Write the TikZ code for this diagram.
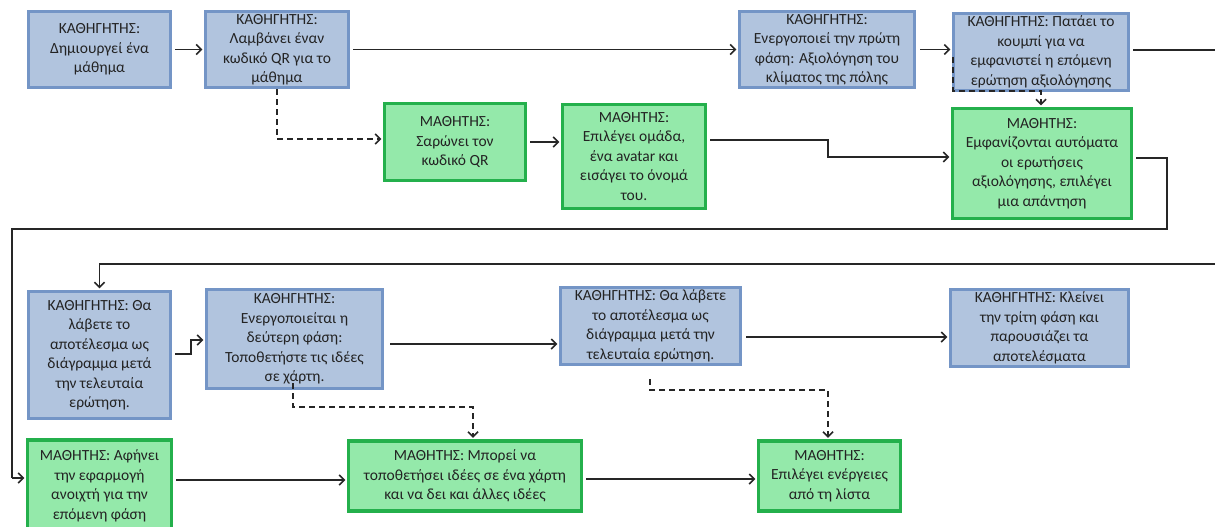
\documentclass[tikz,border=0pt]{standalone}
\usepackage{fontspec}
\setmainfont{Carlito}
\usetikzlibrary{arrows.meta,calc}
\definecolor{bfill}{RGB}{177,196,222}
\definecolor{bline}{RGB}{116,149,198}
\definecolor{gfill}{RGB}{148,233,170}
\definecolor{gline}{RGB}{36,176,76}
\definecolor{txt}{RGB}{35,35,35}
\begin{document}
\begin{tikzpicture}[x=1pt,y=-1pt,
  box/.style={draw, line width=3.4pt, align=center, inner sep=0pt, text=txt,
    font=\fontsize{15.5}{19.5}\selectfont},
  tbox/.style={box, draw=bline, fill=bfill},
  sbox/.style={box, draw=gline, fill=gfill},
  conn/.style={line width=1.6pt, draw=black!85, -{Straight Barb[length=5pt,width=10pt,line width=1.5pt]}, shorten >=1.5pt},
  plain/.style={line width=1.6pt, draw=black!85},
  dconn/.style={conn, dash pattern=on 6pt off 4pt}]
\useasboundingbox (0,0) rectangle (1215,527);
\clip (0,0) rectangle (1215,527);

% row 1
\node[tbox, minimum width=142pt, minimum height=76pt] (A1) at (99.5,49.5) {ΚΑΘΗΓΗΤΗΣ:\\Δημιουργεί ένα\\μάθημα};
\node[tbox, minimum width=143pt, minimum height=76pt] (A2) at (277,49.5) {ΚΑΘΗΓΗΤΗΣ:\\Λαμβάνει έναν\\κωδικό QR για το\\μάθημα};
\node[tbox, minimum width=175pt, minimum height=76pt] (A3) at (827,49.5) {ΚΑΘΗΓΗΤΗΣ:\\Ενεργοποιεί την πρώτη\\φάση: Αξιολόγηση του\\κλίματος της πόλης};
\node[tbox, minimum width=175pt, minimum height=77pt] (A4) at (1041,52) {ΚΑΘΗΓΗΤΗΣ: Πατάει το\\κουμπί για να\\εμφανιστεί η επόμενη\\ερώτηση αξιολόγησης};
\node[sbox, minimum width=141pt, minimum height=77pt] (B1) at (455,142) {ΜΑΘΗΤΗΣ:\\Σαρώνει τον\\κωδικό QR};
\node[sbox, minimum width=143pt, minimum height=104pt] (B2) at (634,156.5) {ΜΑΘΗΤΗΣ:\\Επιλέγει ομάδα,\\ένα avatar και\\εισάγει το όνομά\\του.};
\node[sbox, minimum width=179pt, minimum height=110pt] (B3) at (1042,163.5) {ΜΑΘΗΤΗΣ:\\Εμφανίζονται αυτόματα\\οι ερωτήσεις\\αξιολόγησης, επιλέγει\\μια απάντηση};

% row 2
\node[tbox, minimum width=142pt, minimum height=127pt] (C1) at (99.5,355) {ΚΑΘΗΓΗΤΗΣ: Θα\\λάβετε το\\αποτέλεσμα ως\\διάγραμμα μετά\\την τελευταία\\ερώτηση.};
\node[tbox, minimum width=176pt, minimum height=99pt] (C2) at (294.5,339) {ΚΑΘΗΓΗΤΗΣ:\\Ενεργοποιείται η\\δεύτερη φάση:\\Τοποθετήστε τις ιδέες\\σε χάρτη.};
\node[tbox, minimum width=180pt, minimum height=77pt] (C3) at (650.5,326) {ΚΑΘΗΓΗΤΗΣ: Θα λάβετε\\το αποτέλεσμα ως\\διάγραμμα μετά την\\τελευταία ερώτηση.};
\node[tbox, minimum width=178pt, minimum height=77pt] (C4) at (1039.5,328) {ΚΑΘΗΓΗΤΗΣ: Κλείνει\\την τρίτη φάση και\\παρουσιάζει τα\\αποτελέσματα};
\node[sbox, minimum width=144pt, minimum height=92pt] (D1) at (99.5,486) {ΜΑΘΗΤΗΣ: Αφήνει\\την εφαρμογή\\ανοιχτή για την\\επόμενη φάση};
\node[sbox, minimum width=233pt, minimum height=70pt] (D2) at (465,476) {ΜΑΘΗΤΗΣ: Μπορεί να\\τοποθετήσει ιδέες σε ένα χάρτη\\και να δει και άλλες ιδέες};
\node[sbox, minimum width=142pt, minimum height=70pt] (D3) at (829.5,476) {ΜΑΘΗΤΗΣ:\\Επιλέγει ενέργειες\\από τη λίστα};

% free ends
\coordinate (outA) at (1215,50);
\coordinate (inC) at (1215,264);
\coordinate (dA4) at (953,57);
\coordinate (dC2) at (293,383);
\coordinate (dC3) at (650,379);

% connectors row 1
\draw[conn, shorten <=3pt] (A1.east) -- (A2.east -| A2.west);
\draw[conn, shorten <=3pt] (A2.east) -- (A3.west);
\draw[conn, shorten <=4pt] (A3.east) -- (A3.east -| A4.west);
\draw[plain, shorten <=3pt] (A4.east |- outA) -- (outA);
\draw[dconn] (A2.south) |- (B1.west |- 0,139);
\draw[conn, shorten <=3pt] (B1.east) -- (B1.east -| B2.west);
\draw[conn, shorten <=3pt] (B2.east |- 0,140) -- (828,140) |- (B3.west |- 0,157);
\draw[dconn] (dA4) |- (1041,91) -- (1041,91 |- B3.north);
\draw[plain, shorten <=3pt] (B3.east |- 0,158) -- (1167,158) |- (12,229) -- (12,478);
\draw[conn] (12,478) -- (D1.west |- 0,478);

% connectors row 2
\draw[conn] (inC) -- (inC -| C1.north) -- (C1.north);
\draw[conn, shorten <=3pt] (C1.east |- 0,354) -- (191,354) |- (C2.west |- 0,340);
\draw[conn, shorten <=6pt] (C2.east |- 0,344) -- (C3.west |- 0,344);
\draw[conn, shorten <=4pt] (C3.east |- 0,337) -- (C4.west |- 0,337);
\draw[dconn] (dC2) |- (473,407) -- (473,407 |- D2.north);
\draw[dconn] (dC3) |- (828,390) -- (828,390 |- D3.north);
\draw[conn, shorten <=3pt] (D1.east |- 0,480) -- (D2.west |- 0,480);
\draw[conn, shorten <=3pt] (D2.east |- 0,479) -- (D3.west |- 0,479);
\end{tikzpicture}
\end{document}
